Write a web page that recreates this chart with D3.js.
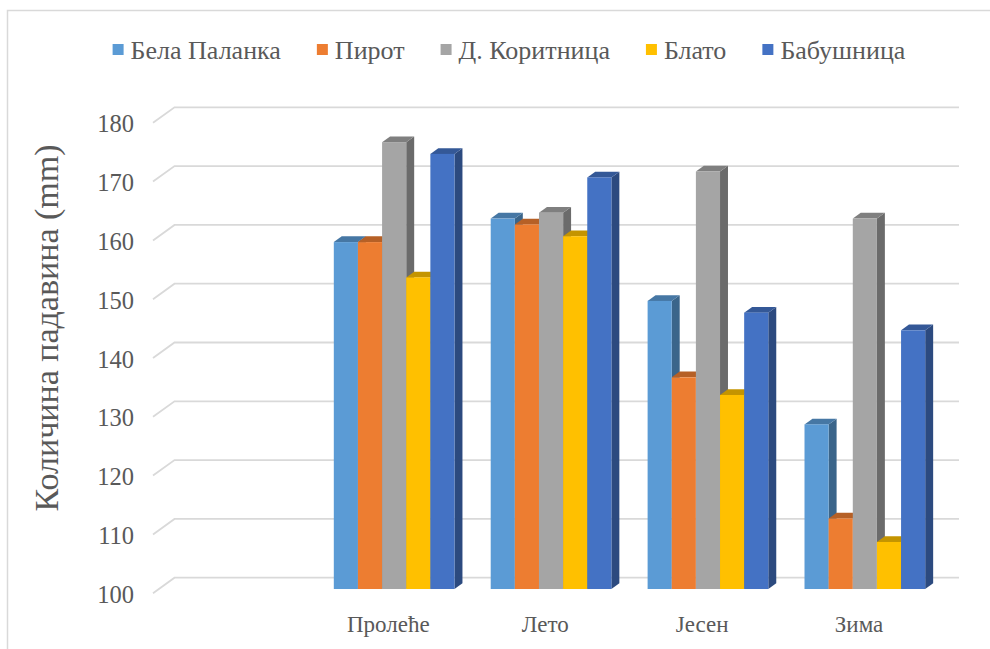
<!DOCTYPE html>
<html>
<head>
<meta charset="utf-8">
<script src="https://cdn.jsdelivr.net/npm/d3@7"></script>
<style>
  html, body { margin: 0; padding: 0; background: #fff; }
  svg { display: block; }
  text { font-family: "Liberation Serif", "Times New Roman", serif; fill: #595959; }
</style>
</head>
<body>
<svg id="chart" width="990" height="649"></svg>
<script>
// Seasonal precipitation (mm) per station
const categories = ["", "Пролеће", "Лето", "Јесен", "Зима"];
const seriesNames = ["Бела Паланка", "Пирот", "Д. Коритница", "Блато", "Бабушница"];
const belaPalanka = [null, 159, 163, 149, 128];
const pirot       = [null, 159, 162, 136, 112];
const dKoritnica  = [null, 176, 164, 171, 163];
const blato       = [null, 153, 160, 133, 108];
const babusnica   = [null, 174, 170, 147, 144];
const seriesValues = [belaPalanka, pirot, dKoritnica, blato, babusnica];
const colors = ["#5B9BD5", "#ED7D31", "#A5A5A5", "#FFC000", "#4472C4"];
const yTicks = [100, 110, 120, 130, 140, 150, 160, 170, 180];
const yTitle = "Количина падавина (mm)";

const svg = d3.select("#chart");

// chart frame
svg.append("rect")
  .attr("x", 7.5).attr("y", 10.5).attr("width", 1000).attr("height", 700)
  .attr("fill", "none").attr("stroke", "#D9D9D9").attr("stroke-width", 1.5);

// 3D projection: back wall vs. front plane offset
const depthX = 21.5, depthY = -15.5;
const frontLeft = 153, frontRight = 937.5;
const yBack = d3.scaleLinear().domain([100, 180]).range([577.7, 107.3]);
const yFront = v => yBack(v) - depthY;

// bars sit between s0 and s1 along the depth axis (0 = front, 1 = back wall)
const s0 = 0.27, s1 = 0.64;
const barDx = (s1 - s0) * depthX, barDy = (s1 - s0) * depthY;

const x = d3.scaleBand().domain(categories).range([frontLeft, frontRight]);
const gapRatio = 1.5;
const barW = x.bandwidth() / (seriesNames.length + gapRatio);
const xs = d3.scaleBand().domain(seriesNames)
  .range([barW * gapRatio / 2, barW * gapRatio / 2 + barW * seriesNames.length]);

// gridlines on the side wall + back wall
const grid = svg.append("g");
yTicks.forEach(t => {
  const yb = yBack(t), yf = yFront(t);
  grid.append("path")
    .attr("d", `M${frontLeft},${yf}L${frontLeft + depthX},${yb}L${frontRight + depthX},${yb}`)
    .attr("fill", "none").attr("stroke", "#D9D9D9").attr("stroke-width", 1.8);
});

// y tick labels
svg.append("g").selectAll("text").data(yTicks).join("text")
  .attr("x", 134).attr("y", d => yFront(d) + 1)
  .attr("text-anchor", "end").attr("dominant-baseline", "central")
  .attr("font-size", 24.5).text(d => d);

// y title
svg.append("text")
  .attr("transform", "translate(58,328) rotate(-90)")
  .attr("text-anchor", "middle").attr("font-size", 34).text(yTitle);

// bars, drawn left to right so each bar covers its neighbour's side face
const shade = (c, k) => { const r = d3.rgb(c); return d3.rgb(r.r * k, r.g * k, r.b * k).formatHex(); };
const bars = svg.append("g");
categories.forEach((cat, ci) => {
  seriesNames.forEach((name, si) => {
    const v = seriesValues[si][ci];
    if (v == null) return;
    const ox = depthX * s0, oy = depthY * s0;
    const x0 = x(cat) + xs(name) + ox, x1 = x0 + xs.bandwidth();
    const yt = yBack(v) - depthY + oy, yb = yBack(100) - depthY + oy;
    const g = bars.append("g");
    g.append("path")
      .attr("d", `M${x1},${yt}L${x1 + barDx},${yt + barDy}L${x1 + barDx},${yb + barDy}L${x1},${yb}Z`)
      .attr("fill", shade(colors[si], 0.65));
    g.append("path")
      .attr("d", `M${x0},${yt}L${x1},${yt}L${x1 + barDx},${yt + barDy}L${x0 + barDx},${yt + barDy}Z`)
      .attr("fill", shade(colors[si], 0.77));
    g.append("rect")
      .attr("x", x0).attr("y", yt).attr("width", xs.bandwidth()).attr("height", yb - yt)
      .attr("fill", colors[si]);
  });
});

// category labels
svg.append("g").selectAll("text").data(categories.filter(c => c)).join("text")
  .attr("x", d => x(d) + x.bandwidth() / 2).attr("y", 632)
  .attr("text-anchor", "middle").attr("font-size", 23).text(d => d);

// legend, laid out in one centred row
const legend = svg.append("g");
const items = seriesNames.map((name, i) => {
  const g = legend.append("g");
  g.append("rect").attr("x", 0).attr("y", -6).attr("width", 11).attr("height", 11).attr("fill", colors[i]);
  const t = g.append("text").attr("x", 18).attr("y", 0).attr("dominant-baseline", "central")
    .attr("font-size", 26).text(name);
  return { g, w: 18 + t.node().getComputedTextLength() };
});
const gap = 36;
const total = d3.sum(items, d => d.w) + gap * (items.length - 1);
let cx = 509 - total / 2;
items.forEach(it => { it.g.attr("transform", `translate(${cx},50)`); cx += it.w + gap; });
</script>
</body>
</html>
